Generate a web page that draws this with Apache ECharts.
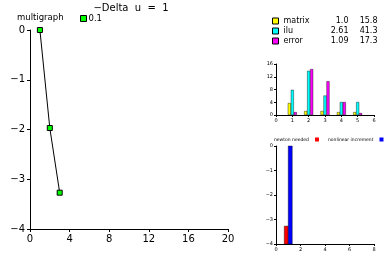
<!DOCTYPE html>
<html><head><meta charset="utf-8">
<script src="https://cdn.jsdelivr.net/npm/echarts@6/dist/echarts.min.js"></script>
<style>html,body{margin:0;padding:0;background:#fff}#c{width:390px;height:260px}</style>
</head><body><div id="c"></div>
<script>
const titleText = '\u2212Delta  u  =  1';
const mainName = '0.1';
const mainX = [1, 2, 3];
const mainY = [0, -1.97, -3.27];

const barX = [1, 2, 3, 4, 5];
const matrixVals = [3.75, 1.25, 1.25, 0.9, 0.9];
const iluVals = [7.9, 13.85, 6.1, 4.06, 4.06];
const errorVals = [0.9, 14.4, 10.6, 4.06, 0.6];
const statNames = ['matrix', 'ilu', 'error'];
const statA = ['1.0', '2.61', '1.09'];
const statB = ['15.8', '41.3', '17.3'];

const newtonX = [1];
const newtonVals = [-3.27];
const incX = [1];
const incVals = [0];
const bar2Base = -4;

const font = 'DejaVu Sans';
const minus = v => String(v).replace('-', '\u2212');
function axis(grid, min, max, interval, small, pos) {
  return {
    type: 'value', gridIndex: grid, min: min, max: max, interval: interval, position: pos,
    axisLine: {show: true, onZero: false, lineStyle: {color: '#000', width: 1, opacity: 1}},
    axisTick: {show: true, length: small ? 2 : 3, lineStyle: {color: '#000', width: 1}},
    splitLine: {show: false},
    axisLabel: {show: true, color: '#000', fontSize: small ? 5 : 10, fontFamily: font,
      margin: small ? 3 : 5, formatter: minus}
  };
}

const statMap = {};
statNames.forEach((n, i) => statMap[n] = [statA[i], statB[i]]);

function barFromBase(offset, width) {
  return function (params, api) {
    const x = api.value(0), v = api.value(1);
    const top = api.coord([x, v]);
    const bot = api.coord([x, bar2Base]);
    return {type: 'rect',
      shape: {x: top[0] + offset, y: top[1], width: width, height: bot[1] - top[1]},
      style: {fill: api.visual('color'), stroke: '#000', lineWidth: 0.4}};
  };
}

const chart = echarts.init(document.getElementById('c'), null, {renderer: 'canvas'});
chart.setOption({
  animation: false,
  backgroundColor: '#fff',
  title: {text: titleText, left: 126, top: -2, textAlign: 'center',
    textStyle: {fontSize: 10, fontWeight: 'normal', color: '#000', fontFamily: font}},
  graphic: [{type: 'text', left: 17, top: 13,
    style: {text: 'multigraph', fontSize: 8.5, fontFamily: font, fill: '#000'}}],
  legend: [
    {data: [mainName], left: 75, top: 9, itemWidth: 6, itemHeight: 6, itemGap: 4,
      icon: 'rect', textStyle: {fontSize: 8.5, fontFamily: font, color: '#000', padding: [0,0,0,-3]},
      itemStyle: {borderColor: '#000', borderWidth: 1}},
    {data: statNames, orient: 'vertical', left: 267, top: 12, itemWidth: 6, itemHeight: 6, itemGap: 2,
      icon: 'rect', itemStyle: {borderColor: '#000', borderWidth: 1},
      formatter: n => '{a|' + n + '}{b|' + statMap[n][0] + '}{c|' + statMap[n][1] + '}',
      textStyle: {fontSize: 8, fontFamily: font, color: '#000',
        rich: {a: {width: 40, fontSize: 8, fontFamily: font}, b: {width: 25, align: 'right', fontSize: 8, fontFamily: font},
               c: {width: 29, align: 'right', fontSize: 8, fontFamily: font}}}},
    {data: ['newton needed'], left: 274, top: 137, width: 60, itemWidth: 4, itemHeight: 4,
      align: 'right', icon: 'rect', padding: 0,
      textStyle: {fontSize: 4.5, fontFamily: font, color: '#000', padding: [0, 1, 0, 0]}},
    {data: ['nonlinear increment'], left: 328, top: 137, width: 60, itemWidth: 4, itemHeight: 4,
      align: 'right', icon: 'rect', padding: 0,
      textStyle: {fontSize: 4.5, fontFamily: font, color: '#000', padding: [0, 1, 0, 0]}}
  ],
  grid: [
    {left: 30, top: 30, width: 198, height: 199},
    {left: 276, top: 64, width: 98, height: 51},
    {left: 276, top: 146, width: 98, height: 98}
  ],
  xAxis: [
    axis(0, 0, 20, 4, false, 'bottom'),
    axis(1, 0, 6, 1, true, 'bottom'),
    axis(2, 0, 8, 2, true, 'bottom')
  ],
  yAxis: [
    axis(0, -4, 0, 1, false, 'left'),
    axis(1, 0, 16, 4, true, 'left'),
    axis(2, -4, 0, 1, true, 'left')
  ],
  series: [
    {name: mainName, type: 'line', xAxisIndex: 0, yAxisIndex: 0,
      data: mainX.map((x, i) => [x, mainY[i]]),
      lineStyle: {color: '#000', width: 1}, symbol: 'rect', symbolSize: 5,
      itemStyle: {color: '#00ff00', borderColor: '#000', borderWidth: 1}},
    {name: 'matrix', type: 'bar', xAxisIndex: 1, yAxisIndex: 1, barWidth: 3, barGap: '0%',
      data: barX.map((x, i) => [x, matrixVals[i]]),
      itemStyle: {color: '#ffff00', borderColor: '#000', borderWidth: 0.4}},
    {name: 'ilu', type: 'bar', xAxisIndex: 1, yAxisIndex: 1, barWidth: 3, barGap: '0%',
      data: barX.map((x, i) => [x, iluVals[i]]),
      itemStyle: {color: '#00ffff', borderColor: '#000', borderWidth: 0.4}},
    {name: 'error', type: 'bar', xAxisIndex: 1, yAxisIndex: 1, barWidth: 3, barGap: '0%',
      data: barX.map((x, i) => [x, errorVals[i]]),
      itemStyle: {color: '#ff00ff', borderColor: '#000', borderWidth: 0.4}},
    {name: 'newton needed', type: 'custom', xAxisIndex: 2, yAxisIndex: 2,
      renderItem: barFromBase(-4, 4),
      data: newtonX.map((x, i) => [x, newtonVals[i]]),
      itemStyle: {color: '#ff0000'}},
    {name: 'nonlinear increment', type: 'custom', xAxisIndex: 2, yAxisIndex: 2,
      renderItem: barFromBase(0, 4),
      data: incX.map((x, i) => [x, incVals[i]]),
      itemStyle: {color: '#0000ff'}}
  ]
});
</script></body></html>
